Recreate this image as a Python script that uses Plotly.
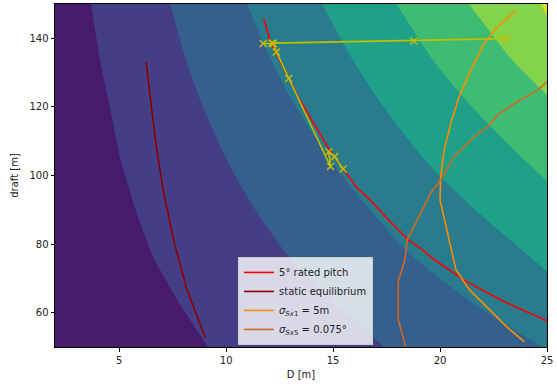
import plotly.graph_objects as go

# ---------------- data ----------------
# contour band boundaries (D [m], draft [m]) from top edge downward
B1_D = [3.69, 4.11, 4.56, 5.07, 5.34, 5.77, 6.27, 6.66, 7.91, 9.15]
B1_T = [150, 133.6, 120, 104.5, 98.7, 90, 81.3, 75.4, 61.8, 50]
B2_D = [7.39, 8.13, 8.92, 10.04, 10.53, 11.36, 12.32, 13.06, 15.25, 17.38]
B2_T = [150, 133.6, 120, 104.5, 98.7, 90, 81.3, 75.4, 61.8, 50]
B3_D = [10.98, 12.10, 13.26, 14.89, 15.59, 16.72, 17.94, 18.91, 21.77, 24.75]
B3_T = [150, 133.6, 120, 104.5, 98.7, 90, 81.3, 75.4, 61.8, 50]
B4_D = [14.49, 15.93, 17.36, 19.30, 20.17, 21.65, 23.26, 24.38, 25.0]
B4_T = [150, 133.6, 120, 104.5, 98.7, 90, 81.3, 75.4, 72]
B5_D = [17.96, 19.68, 21.50, 23.95, 25.0]
B5_T = [150, 133.6, 120, 104.5, 98.5]
B6_D = [21.35, 23.39, 25.0]
B6_T = [150, 133.6, 123.5]
B7_D = [24.72, 25.0]
B7_T = [150, 146.7]

band_colors = ["#481a6c", "#433e85", "#355f8d", "#297b8e",
               "#1fa088", "#3fbc73", "#84d44b", "#d8e219"]

# 5 deg rated pitch
pitch_D = [11.76, 12.07, 12.93, 13.40, 14.33, 14.73, 15.50, 16.13, 16.68,
           17.60, 18.50, 19.17, 19.72, 21.20, 23.00, 25.04]
pitch_T = [145.7, 138.9, 128.3, 122.5, 112.8, 108.4, 101.6, 96.3, 93.2,
           87.0, 81.3, 78.4, 75.5, 69.2, 63.2, 57.5]

# static equilibrium
static_D = [6.26, 6.40, 6.68, 6.70, 7.07, 7.10, 7.54, 8.17, 9.03]
static_T = [133.1, 126.0, 111.3, 110.0, 95.3, 94.5, 81.3, 66.7, 52.7]

# sigma_Sx1 = 5 m
sx1_D = [23.55, 22.69, 22.06, 21.44, 20.89, 20.50, 20.19, 20.03, 20.00,
         20.42, 20.66, 20.74, 21.36, 22.30, 23.08, 23.94]
sx1_T = [148.1, 143.3, 138.5, 130.7, 122.9, 115.2, 107.4, 99.7, 92.9,
         81.3, 75.5, 72.6, 66.8, 60.9, 56.1, 51.5]

# sigma_Sx5 = 0.075 deg
sx5_D = [25.10, 24.56, 23.47, 22.69, 22.22, 21.59, 20.66, 20.03, 19.56,
         19.41, 18.86, 18.47, 18.36, 18.05, 18.05, 18.39]
sx5_T = [127.8, 124.9, 121.0, 117.6, 114.2, 111.3, 105.5, 98.7, 94.9,
         92.9, 86.1, 81.3, 75.5, 69.2, 58.0, 50.1]

# optimisation path (x markers)
opt_D = [12.15, 23.08, 18.78, 11.73, 12.20, 12.35, 12.93, 14.88, 14.80,
         15.07, 15.47]
opt_T = [138.6, 139.9, 139.2, 138.5, 138.4, 136.0, 128.3, 102.6, 106.9,
         105.5, 101.9]

x_ticks = [5, 10, 15, 20, 25]
y_ticks = [60, 80, 100, 120, 140]
x_range = [2, 25]
y_range = [50, 150]

# ---------------- figure ----------------
fig = go.Figure()

boundaries = [(B1_D, B1_T), (B2_D, B2_T), (B3_D, B3_T), (B4_D, B4_T),
              (B5_D, B5_T), (B6_D, B6_T), (B7_D, B7_T)]

for k, (bd, bt) in enumerate(boundaries):
    # extend the boundary a little past the plot edges along its direction
    x_pre = bd[0] + (bd[0] - bd[1]) * 0.4
    y_pre = bt[0] + (bt[0] - bt[1]) * 0.4
    x_post = bd[-1] + (bd[-1] - bd[-2]) * 0.4
    y_post = bt[-1] + (bt[-1] - bt[-2]) * 0.4
    xs = [x_pre] + list(bd) + [x_post, x_range[1] + 6, x_range[1] + 6, x_pre]
    ys = [y_pre] + list(bt) + [y_post, y_post, y_range[1] + 12,
                               y_range[1] + 12]
    fig.add_trace(go.Scatter(x=xs, y=ys, mode="lines", fill="toself",
                             fillcolor=band_colors[k + 1],
                             line=dict(width=0, color=band_colors[k + 1],
                                       shape="spline", smoothing=0.7),
                             showlegend=False, hoverinfo="skip"))

fig.add_trace(go.Scatter(x=pitch_D, y=pitch_T, mode="lines",
                         line=dict(color="#ff0000", width=1.6),
                         name="5° rated pitch"))
fig.add_trace(go.Scatter(x=static_D, y=static_T, mode="lines",
                         line=dict(color="#8b0000", width=1.6),
                         name="static equilibrium"))
fig.add_trace(go.Scatter(x=sx1_D, y=sx1_T, mode="lines",
                         line=dict(color="#ff8c00", width=1.6),
                         name="<i>σ</i><sub><i>Sx</i>1</sub> = 5m"))
fig.add_trace(go.Scatter(x=sx5_D, y=sx5_T, mode="lines",
                         line=dict(color="#d2691e", width=1.6),
                         name="<i>σ</i><sub><i>Sx</i>5</sub> = 0.075°"))
fig.add_trace(go.Scatter(x=opt_D, y=opt_T, mode="lines+markers",
                         line=dict(color="#bfbf00", width=1.6),
                         marker=dict(symbol="x-thin", size=7,
                                     line=dict(color="#bfbf00", width=1.5)),
                         showlegend=False, hoverinfo="skip"))

axis_common = dict(showgrid=False, zeroline=False, showline=True,
                   linecolor="black", linewidth=1, mirror=True,
                   ticks="outside", ticklen=3.5, tickwidth=1,
                   tickcolor="black", automargin=False,
                   tickfont=dict(family="DejaVu Sans", size=10, color="#222"))

fig.update_layout(
    width=557, height=388,
    margin=dict(l=55, r=10, t=4, b=41, autoexpand=False),
    paper_bgcolor="white",
    plot_bgcolor=band_colors[0],
    font=dict(family="DejaVu Sans", size=10, color="#222"),
    xaxis=dict(range=x_range, tickvals=x_ticks,
               title=dict(text="D [m]", standoff=6,
                          font=dict(family="DejaVu Sans", size=10)),
               **axis_common),
    yaxis=dict(range=y_range, tickvals=y_ticks,
               title=dict(text="draft [m]", standoff=8,
                          font=dict(family="DejaVu Sans", size=10)),
               **axis_common),
    legend=dict(x=0.372, y=0.006, xanchor="left", yanchor="bottom",
                bgcolor="rgba(255,255,255,0.8)", bordercolor="#cccccc",
                borderwidth=1, font=dict(family="DejaVu Sans", size=10,
                                         color="#222"),
                tracegroupgap=0, itemwidth=30),
)

fig.write_html("out.html",
               config={"displayModeBar": False},
               post_script="document.body.style.margin='0';"
                           "document.body.style.overflow='hidden';")
